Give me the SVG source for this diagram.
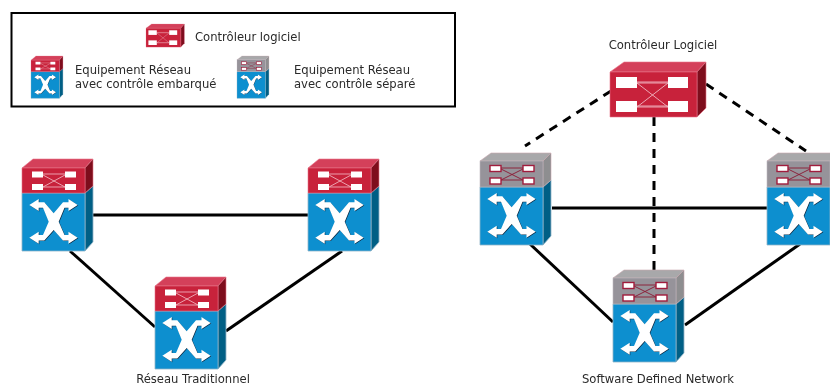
<svg xmlns="http://www.w3.org/2000/svg" width="830" height="386" viewBox="0 0 830 386">
<style>
text{font-family:"DejaVu Sans",sans-serif;font-size:11.6px;fill:#2a2a2a}
.link{stroke:#000;stroke-width:3;fill:none}
.dash{stroke-dasharray:9 7}
.edge{stroke:#8fb4c8;stroke-width:.8;stroke-linejoin:round}
.redge{stroke:#e8768a;stroke-width:.6;stroke-linejoin:round}
.x{stroke:#f4c4cc;stroke-width:.8;fill:none}
.xg{stroke:#8b1a33;stroke-width:.9;fill:none}
</style>
<defs>
<filter id="soft" x="0" y="0" width="1" height="1" filterUnits="objectBoundingBox"><feGaussianBlur stdDeviation="0.4"/></filter>
<polygon id="xshape" points="7.3,46 16.7,40 16.7,43.3 22.3,43.3 31.7,54.3 41,43.3 46.5,43.3 46.5,40 55.7,46 46.5,52 46.5,48.7 42.5,48.7 36.7,62.7 42.5,76 46.5,76 46.5,72.7 55.7,78.7 46.5,84.7 46.5,81.4 41,81.4 31.7,71 22.3,81.4 16.7,81.4 16.7,84.7 7.3,78.7 16.7,72.7 16.7,76 21,76 26.7,62.7 21,48.7 16.7,48.7 16.7,52"/>
<g id="blue">
<polygon points="63,34 71,27 71,83 63,92" fill="#065f85" class="edge"/>
<rect x="0" y="34" width="63" height="58" fill="#0a8fcf" class="edge"/>
<use href="#xshape" fill="#0b2a44" transform="translate(.6,.6)"/>
<use href="#xshape" fill="#fff"/>
</g>
<g id="ports">
<rect x="10" y="12.5" width="11" height="6" fill="#fff"/>
<rect x="43" y="12.5" width="11" height="6" fill="#fff"/>
<rect x="10" y="25" width="11" height="6" fill="#fff"/>
<rect x="43" y="25" width="11" height="6" fill="#fff"/>
</g>
<g id="redtop">
<polygon points="0,9 11,0 71,0 63,9" fill="#d4405a" class="redge"/>
<polygon points="63,9 71,0 71,27 63,34" fill="#7e0f1f" class="redge"/>
<rect x="0" y="9" width="63" height="25" fill="#c8203a" class="redge"/>
<path d="M21,15H43M21,28H43M21,16L43,28M21,28L43,16" class="x"/>
<use href="#ports"/>
</g>
<g id="graytop">
<polygon points="0,8 11,0 71,0 63,8" fill="#a8a8aa" stroke="#c9a8b0" stroke-width=".6"/>
<polygon points="63,8 71,0 71,27 63,34" fill="#8e8e90" stroke="#c9a8b0" stroke-width=".6"/>
<rect x="0" y="8" width="63" height="26" fill="#96939a" stroke="#c0b8c0" stroke-width=".6"/>
<path d="M21,15H43M21,27H43M21,16L43,27M21,27L43,16" class="xg"/>
<g stroke="#a01c3c" stroke-width="1.4"><use href="#ports"/></g>
</g>
<g id="ctrl">
<polygon points="0,10 14,0 96,0 87,10" fill="#d4405a" class="redge"/>
<polygon points="87,10 96,0 96,46 87,55" fill="#7e0f1f" class="redge"/>
<rect x="0" y="10" width="87" height="45" fill="#c8203a" class="redge"/>
<path d="M27,20H58M27,21H58M27,44H58M27,45H58M27,21L58,45M27,45L58,21" stroke="#f0b8c2" stroke-width=".9" fill="none"/>
<rect x="6" y="15" width="21" height="11" fill="#fff"/>
<rect x="58" y="15" width="20" height="11" fill="#fff"/>
<rect x="6" y="39" width="21" height="11" fill="#fff"/>
<rect x="58" y="39" width="20" height="11" fill="#fff"/>
</g>
</defs>
<rect width="830" height="386" fill="#fff"/>
<g filter="url(#soft)">
<rect width="830" height="386" fill="#fff"/>
<g id="connectors">
<line class="link" x1="93" y1="215" x2="308" y2="215"/>
<line class="link" x1="70" y1="251" x2="155" y2="327"/>
<line class="link" x1="226" y1="331" x2="342" y2="251"/>
<line class="link" x1="552" y1="208" x2="767" y2="208"/>
<line class="link" x1="530" y1="244" x2="613" y2="322"/>
<line class="link" x1="685" y1="325" x2="800" y2="244"/>
<line class="link dash" x1="611" y1="91" x2="525" y2="146"/>
<line class="link dash" x1="706" y1="84" x2="806" y2="151"/>
<line class="link dash" x1="654" y1="117" x2="654" y2="270"/>
</g>
<g id="legend">
<rect x="11.5" y="13" width="443.5" height="93.5" fill="#fff" stroke="#000" stroke-width="2"/>
<use href="#ctrl" transform="translate(146,24) scale(.4,.42)"/>
<g transform="translate(31,56) scale(.45,.46)"><use href="#blue"/><use href="#redtop"/></g>
<g transform="translate(237,56) scale(.45,.46)"><use href="#blue"/><use href="#graytop"/></g>
<text x="195" y="41">Contrôleur logiciel</text>
<text x="75" y="74">Equipement Réseau</text>
<text x="75" y="88">avec contrôle embarqué</text>
<text x="294" y="74">Equipement Réseau</text>
<text x="294" y="88">avec contrôle séparé</text>
</g>
<g id="trad-1" transform="translate(22,159)"><use href="#blue"/><use href="#redtop"/></g>
<g id="trad-2" transform="translate(308,159)"><use href="#blue"/><use href="#redtop"/></g>
<g id="trad-3" transform="translate(155,277)"><use href="#blue"/><use href="#redtop"/></g>
<g id="trad-label"><text x="193" y="383" text-anchor="middle">Réseau Traditionnel</text></g>
<g id="controller" transform="translate(610,62)"><use href="#ctrl"/></g>
<g id="controller-label"><text x="663" y="49" text-anchor="middle">Contrôleur Logiciel</text></g>
<g id="sdn-1" transform="translate(480,153)"><use href="#blue"/><use href="#graytop"/></g>
<g id="sdn-2" transform="translate(767,153)"><use href="#blue"/><use href="#graytop"/></g>
<g id="sdn-3" transform="translate(613,270)"><use href="#blue"/><use href="#graytop"/></g>
<g id="sdn-label"><text x="658" y="383" text-anchor="middle">Software Defined Network</text></g>
</g>
</svg>
